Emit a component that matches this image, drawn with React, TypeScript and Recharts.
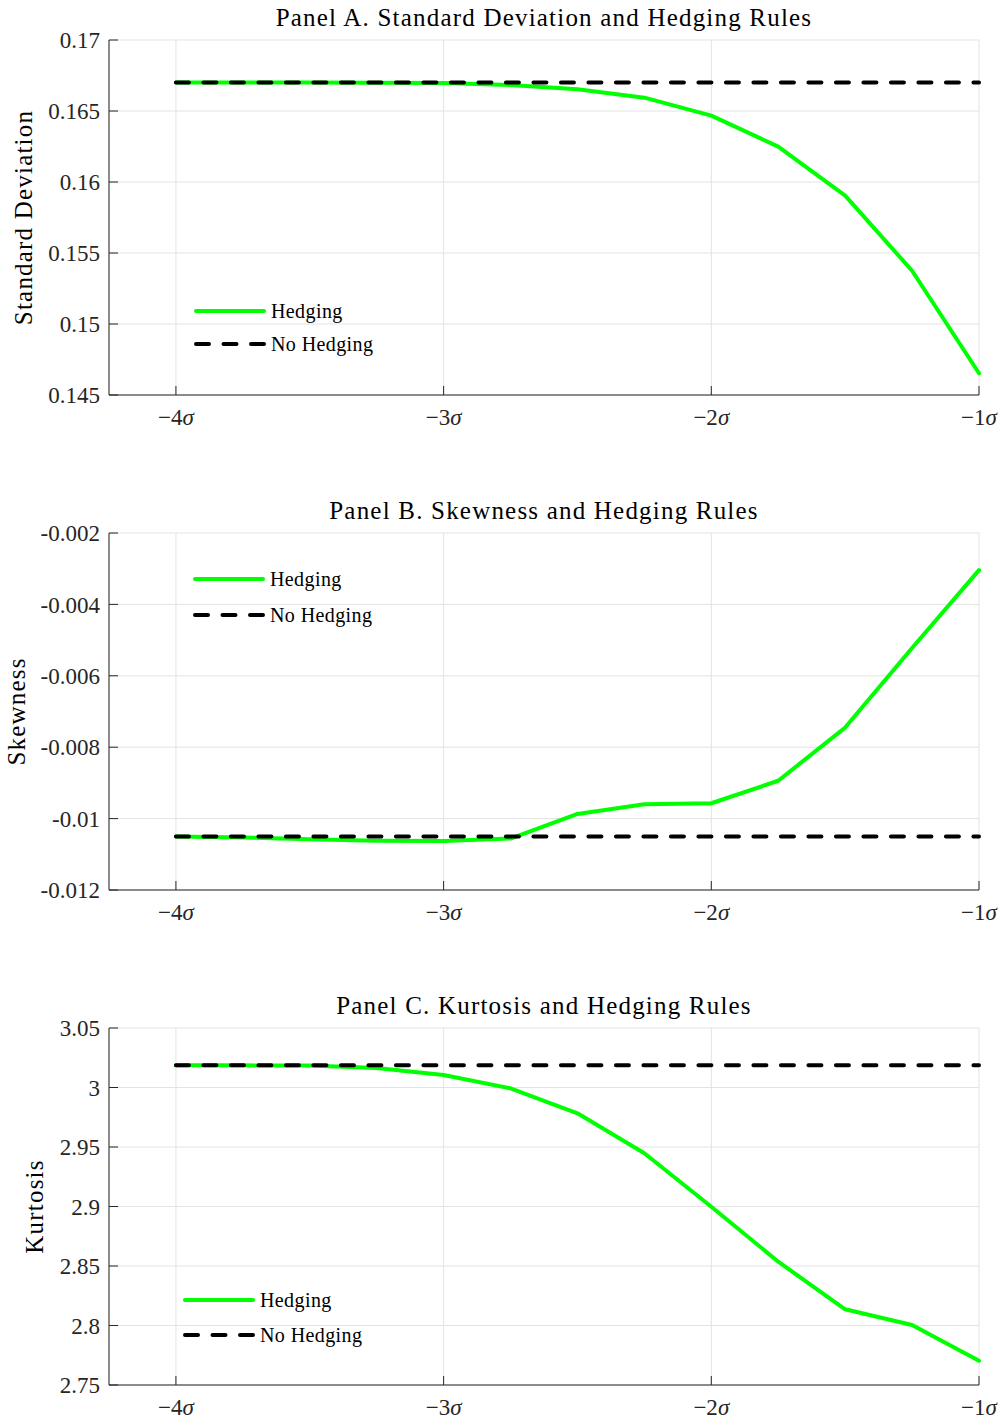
import React from 'react'
import { LineChart, Line, XAxis, YAxis, CartesianGrid, Legend } from 'recharts'

// shock size in units of sigma
const xValues = [-4, -3.75, -3.5, -3.25, -3, -2.75, -2.5, -2.25, -2, -1.75, -1.5, -1.25, -1]
const xTicks = [-4, -3, -2, -1]

const stdHedging = [0.167, 0.167, 0.167, 0.16699, 0.16697, 0.16683, 0.16653, 0.16594, 0.16467, 0.16249, 0.15904, 0.15375, 0.14653]
const stdNoHedging = [0.167, 0.167, 0.167, 0.167, 0.167, 0.167, 0.167, 0.167, 0.167, 0.167, 0.167, 0.167, 0.167]
const stdTicks = [0.145, 0.15, 0.155, 0.16, 0.165, 0.17]

const skewHedging = [-0.0105, -0.01053, -0.01058, -0.01062, -0.01063, -0.01056, -0.00987, -0.0096, -0.00957, -0.00894, -0.00745, -0.00522, -0.00304]
const skewNoHedging = [-0.0105, -0.0105, -0.0105, -0.0105, -0.0105, -0.0105, -0.0105, -0.0105, -0.0105, -0.0105, -0.0105, -0.0105, -0.0105]
const skewTicks = [-0.012, -0.01, -0.008, -0.006, -0.004, -0.002]

const kurtHedging = [3.0186, 3.0186, 3.0184, 3.0164, 3.0105, 2.9993, 2.9783, 2.9447, 2.8998, 2.8536, 2.8136, 2.8004, 2.7704]
const kurtNoHedging = [3.0186, 3.0186, 3.0186, 3.0186, 3.0186, 3.0186, 3.0186, 3.0186, 3.0186, 3.0186, 3.0186, 3.0186, 3.0186]
const kurtTicks = [2.75, 2.8, 2.85, 2.9, 2.95, 3, 3.05]

const FONT = '"Liberation Serif", "Times New Roman", serif'
const AXIS = '#262626'
const GRID = '#e3e3e3'
const GREEN = '#00ff00'
const DASH = '13 14.5'
const PLOT_TOP = 40

function SigmaTick(props: any) {
  const { x, y, payload } = props
  return (
    <text x={x} y={y} textAnchor="middle" fontSize={23} fill={AXIS} fontFamily={FONT}>
      {'\u2212' + Math.abs(payload.value)}
      <tspan fontStyle="italic">σ</tspan>
    </text>
  )
}

function makeLegend(gap: number) {
  return (props: any) => {
    const items = props.payload ?? []
    return (
      <svg width={230} height={90} style={{ display: 'block' }}>
        {items.map((it: any, i: number) => {
          const y = 21 + i * gap
          const dashed = it.payload?.strokeDasharray
          return (
            <g key={it.value}>
              <line x1={8} x2={76} y1={y} y2={y} stroke={it.color} strokeWidth={4}
                strokeLinecap="round" strokeDasharray={dashed} />
              <text x={83} y={y} dy="0.34em" fontSize={20} fill="#000" fontFamily={FONT}
                letterSpacing={0.4}>{it.value}</text>
            </g>
          )
        })}
      </svg>
    )
  }
}

interface PanelProps {
  top: number
  plotHeight: number
  title: string
  yLabel: string
  yLabelX: number
  yTicks: number[]
  hedging: number[]
  noHedging: number[]
  legendLeft: number
  legendTop: number
  legendGap: number
}

function Panel(p: PanelProps) {
  const data = xValues.map((x, i) => ({ x, hedging: p.hedging[i], noHedging: p.noHedging[i] }))
  const height = PLOT_TOP + p.plotHeight + 45
  const cy = PLOT_TOP + p.plotHeight / 2

  return (
    <div style={{ position: 'absolute', left: 0, top: p.top, width: 1006, height }}>
      <div style={{
        position: 'absolute', left: 109, width: 870, top: 5, textAlign: 'center',
        fontSize: 25, lineHeight: 1, letterSpacing: 1.2, color: '#000', fontFamily: FONT, whiteSpace: 'nowrap',
      }}>
        {p.title}
      </div>
      <LineChart width={1006} height={height} data={data}
        margin={{ top: PLOT_TOP, right: 27, bottom: 5, left: 0 }}>
        <CartesianGrid stroke={GRID} strokeWidth={1} />
        <XAxis
          type="number"
          dataKey="x"
          domain={[-4.25, -1]}
          ticks={xTicks}
          interval={0}
          height={40}
          stroke={AXIS}
          tickSize={-9}
          tickMargin={39}
          tick={<SigmaTick />}
        />
        <YAxis
          type="number"
          domain={[p.yTicks[0], p.yTicks[p.yTicks.length - 1]]}
          ticks={p.yTicks}
          interval={0}
          width={109}
          stroke={AXIS}
          tickSize={-9}
          tickMargin={18}
          tickFormatter={(v: number) => String(v)}
          tick={{ fontSize: 23, fill: AXIS, fontFamily: FONT }}
          label={() => (
            <text x={p.yLabelX} y={cy} transform={`rotate(-90 ${p.yLabelX} ${cy})`}
              textAnchor="middle" dominantBaseline="central" fontSize={25} letterSpacing={1.2}
              fill="#000" fontFamily={FONT}>
              {p.yLabel}
            </text>
          )}
        />
        <Legend
          layout="horizontal"
          align="center"
          verticalAlign="middle"
          width={230}
          height={90}
          wrapperStyle={{ left: p.legendLeft, top: p.legendTop }}
          content={makeLegend(p.legendGap)}
        />
        <Line name="Hedging" dataKey="hedging" type="linear" stroke={GREEN} strokeWidth={4}
          strokeLinecap="round" strokeLinejoin="round" dot={false} activeDot={false} isAnimationActive={false} />
        <Line name="No Hedging" dataKey="noHedging" type="linear" stroke="#000" strokeWidth={4}
          strokeDasharray={DASH} strokeLinecap="round" dot={false} activeDot={false} isAnimationActive={false} />
      </LineChart>
    </div>
  )
}

export default function App() {
  return (
    <div style={{ position: 'absolute', left: 0, top: 0, width: 1006, height: 1420, background: '#fff', fontFamily: FONT }}>
      <Panel top={0} plotHeight={355} title="Panel A. Standard Deviation and Hedging Rules"
        yLabel="Standard Deviation" yLabelX={23} yTicks={stdTicks}
        hedging={stdHedging} noHedging={stdNoHedging}
        legendLeft={188} legendTop={290} legendGap={33} />
      <Panel top={493} plotHeight={357} title="Panel B. Skewness and Hedging Rules"
        yLabel="Skewness" yLabelX={16} yTicks={skewTicks}
        hedging={skewHedging} noHedging={skewNoHedging}
        legendLeft={187} legendTop={65} legendGap={36} />
      <Panel top={988} plotHeight={357} title="Panel C. Kurtosis and Hedging Rules"
        yLabel="Kurtosis" yLabelX={34} yTicks={kurtTicks}
        hedging={kurtHedging} noHedging={kurtNoHedging}
        legendLeft={177} legendTop={291} legendGap={35} />
    </div>
  )
}
